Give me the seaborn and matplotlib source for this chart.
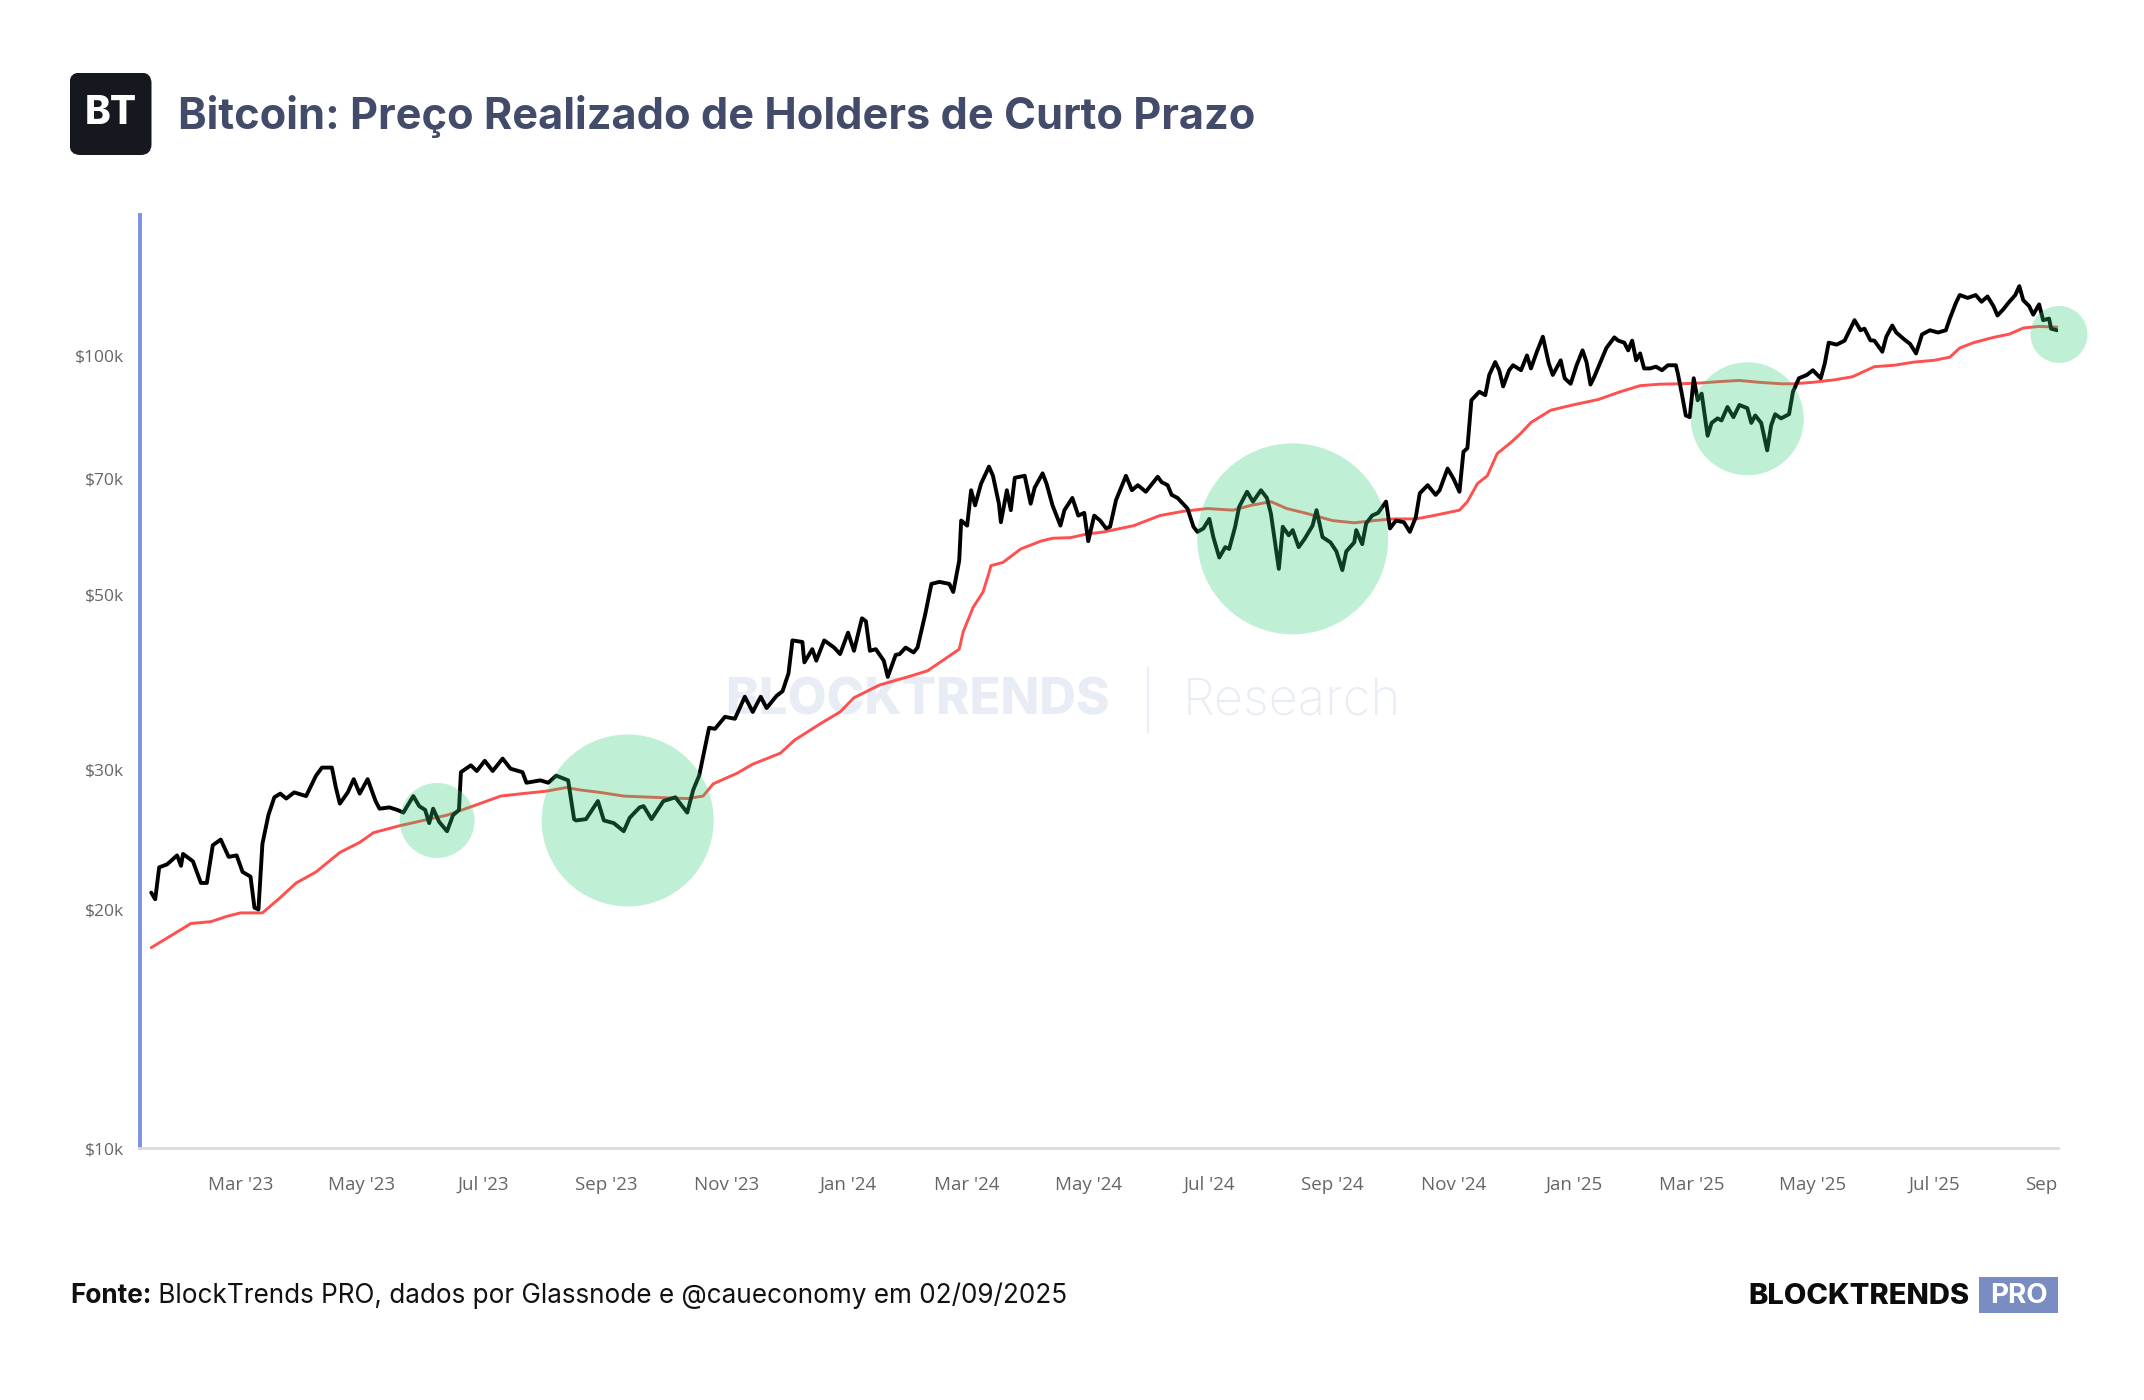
import matplotlib
matplotlib.use("Agg")
import matplotlib.pyplot as plt
import matplotlib.patches as mpatches
import matplotlib.ticker as mticker
import pandas as pd
import seaborn as sns

# ---- data ------------------------------------------------------------------
PRICE_DATES = [
    "2023-01-15", "2023-01-17", "2023-01-19", "2023-01-23", "2023-01-28", "2023-01-30", "2023-01-31",
    "2023-02-05", "2023-02-09", "2023-02-12", "2023-02-15", "2023-02-19", "2023-02-23", "2023-02-27",
    "2023-03-02", "2023-03-06", "2023-03-08", "2023-03-10", "2023-03-12", "2023-03-15", "2023-03-18",
    "2023-03-21", "2023-03-24", "2023-03-28", "2023-04-03", "2023-04-08", "2023-04-11", "2023-04-16",
    "2023-04-18", "2023-04-20", "2023-04-24", "2023-04-27", "2023-04-30", "2023-05-04", "2023-05-08",
    "2023-05-10", "2023-05-15", "2023-05-19", "2023-05-22", "2023-05-27", "2023-05-30", "2023-06-02",
    "2023-06-04", "2023-06-06", "2023-06-09", "2023-06-13", "2023-06-16", "2023-06-19", "2023-06-20",
    "2023-06-25", "2023-06-28", "2023-07-02", "2023-07-06", "2023-07-11", "2023-07-15", "2023-07-21",
    "2023-07-23", "2023-07-30", "2023-08-03", "2023-08-07", "2023-08-13", "2023-08-16", "2023-08-17",
    "2023-08-22", "2023-08-28", "2023-08-31", "2023-09-05", "2023-09-10", "2023-09-13", "2023-09-18",
    "2023-09-20", "2023-09-24", "2023-09-30", "2023-10-06", "2023-10-12", "2023-10-15", "2023-10-18",
    "2023-10-23", "2023-10-26", "2023-10-31", "2023-11-05", "2023-11-10", "2023-11-14", "2023-11-18",
    "2023-11-21", "2023-11-26", "2023-11-29", "2023-12-02", "2023-12-04", "2023-12-09", "2023-12-10",
    "2023-12-14", "2023-12-16", "2023-12-20", "2023-12-25", "2023-12-28", "2024-01-01", "2024-01-04",
    "2024-01-08", "2024-01-10", "2024-01-12", "2024-01-15", "2024-01-19", "2024-01-21", "2024-01-25",
    "2024-01-27", "2024-01-30", "2024-02-03", "2024-02-05", "2024-02-09", "2024-02-12", "2024-02-16",
    "2024-02-21", "2024-02-23", "2024-02-26", "2024-02-27", "2024-03-01", "2024-03-03", "2024-03-05",
    "2024-03-08", "2024-03-12", "2024-03-14", "2024-03-17", "2024-03-18", "2024-03-21", "2024-03-23",
    "2024-03-25", "2024-03-30", "2024-04-02", "2024-04-04", "2024-04-08", "2024-04-10", "2024-04-13",
    "2024-04-17", "2024-04-19", "2024-04-23", "2024-04-26", "2024-04-29", "2024-05-01", "2024-05-04",
    "2024-05-07", "2024-05-10", "2024-05-12", "2024-05-15", "2024-05-20", "2024-05-23", "2024-05-26",
    "2024-05-30", "2024-06-05", "2024-06-07", "2024-06-10", "2024-06-12", "2024-06-15", "2024-06-20",
    "2024-06-23", "2024-06-25", "2024-06-28", "2024-07-01", "2024-07-03", "2024-07-06", "2024-07-09",
    "2024-07-11", "2024-07-14", "2024-07-16", "2024-07-20", "2024-07-23", "2024-07-27", "2024-07-30",
    "2024-08-01", "2024-08-05", "2024-08-07", "2024-08-10", "2024-08-12", "2024-08-15", "2024-08-18",
    "2024-08-22", "2024-08-24", "2024-08-27", "2024-08-31", "2024-09-03", "2024-09-06", "2024-09-08",
    "2024-09-12", "2024-09-13", "2024-09-16", "2024-09-18", "2024-09-21", "2024-09-24", "2024-09-28",
    "2024-09-30", "2024-10-03", "2024-10-07", "2024-10-10", "2024-10-13", "2024-10-15", "2024-10-19",
    "2024-10-23", "2024-10-25", "2024-10-29", "2024-11-01", "2024-11-04", "2024-11-06", "2024-11-08",
    "2024-11-10", "2024-11-14", "2024-11-17", "2024-11-19", "2024-11-22", "2024-11-24", "2024-11-26",
    "2024-11-29", "2024-12-01", "2024-12-05", "2024-12-08", "2024-12-10", "2024-12-13", "2024-12-16",
    "2024-12-19", "2024-12-21", "2024-12-25", "2024-12-27", "2024-12-30", "2025-01-02", "2025-01-05",
    "2025-01-07", "2025-01-09", "2025-01-11", "2025-01-15", "2025-01-17", "2025-01-21", "2025-01-23",
    "2025-01-26", "2025-01-28", "2025-01-30", "2025-02-01", "2025-02-03", "2025-02-05", "2025-02-08",
    "2025-02-11", "2025-02-14", "2025-02-17", "2025-02-21", "2025-02-22", "2025-02-24", "2025-02-26",
    "2025-02-28", "2025-03-02", "2025-03-04", "2025-03-06", "2025-03-09", "2025-03-11", "2025-03-14",
    "2025-03-16", "2025-03-19", "2025-03-22", "2025-03-25", "2025-03-29", "2025-03-31", "2025-04-02",
    "2025-04-05", "2025-04-08", "2025-04-10", "2025-04-12", "2025-04-15", "2025-04-19", "2025-04-21",
    "2025-04-24", "2025-04-28", "2025-05-01", "2025-05-05", "2025-05-07", "2025-05-09", "2025-05-13",
    "2025-05-17", "2025-05-22", "2025-05-25", "2025-05-27", "2025-05-30", "2025-06-01", "2025-06-05",
    "2025-06-07", "2025-06-10", "2025-06-12", "2025-06-16", "2025-06-19", "2025-06-22", "2025-06-25",
    "2025-06-29", "2025-07-03", "2025-07-07", "2025-07-09", "2025-07-12", "2025-07-14", "2025-07-18",
    "2025-07-22", "2025-07-25", "2025-07-28", "2025-07-31", "2025-08-02", "2025-08-05", "2025-08-08",
    "2025-08-11", "2025-08-13", "2025-08-15", "2025-08-18", "2025-08-20", "2025-08-23", "2025-08-25",
    "2025-08-28", "2025-08-29", "2025-09-01",
]
PRICE_USD = [
    21000, 20600, 22600, 22800, 23400, 22700, 23500,
    23000, 21600, 21600, 24100, 24500, 23300, 23400,
    22300, 22000, 20100, 20000, 24200, 26300, 27700,
    28000, 27600, 28100, 27800, 29500, 30200, 30200,
    28500, 27200, 28100, 29200, 28000, 29200, 27400,
    26800, 26900, 26700, 26500, 27800, 27000, 26700,
    25700, 26800, 25800, 25100, 26300, 26700, 29800,
    30400, 29900, 30800, 29900, 31000, 30100, 29800,
    28900, 29100, 28900, 29500, 29100, 26000, 25900,
    26000, 27400, 25900, 25700, 25100, 26100, 26900,
    27000, 26000, 27400, 27700, 26500, 28300, 29500,
    33900, 33800, 35000, 34800, 37100, 35500, 37100,
    35900, 37200, 37700, 39700, 43700, 43500, 41000,
    42600, 41200, 43700, 42800, 42000, 44700, 42400,
    46600, 46200, 42400, 42600, 41200, 39300, 41900,
    42000, 42800, 42200, 42800, 47300, 51500, 51800,
    51500, 50300, 55100, 61900, 61000, 67600, 64700,
    68900, 72400, 70500, 65000, 61600, 67600, 63800,
    70100, 70500, 65000, 68100, 71000, 68900, 64700,
    61000, 63800, 66100, 62800, 63300, 58300, 62800,
    61900, 60500, 60800, 65700, 70500, 67600, 68600,
    67300, 70300, 69200, 68600, 66700, 66100, 64100,
    60800, 59900, 60500, 62200, 59000, 55600, 57300,
    57000, 60800, 64400, 67300, 65400, 67600, 66100,
    63200, 53800, 60800, 59300, 60200, 57300, 58700,
    61000, 63800, 59000, 58100, 56600, 53600, 56600,
    58100, 60200, 57800, 61400, 62800, 63300, 65400,
    60500, 61900, 61600, 59900, 62500, 67000, 68600,
    66700, 67600, 72000, 69900, 67300, 75600, 76400,
    87800, 90000, 89100, 94500, 98100, 95800, 91400,
    95800, 97200, 95800, 100000, 96300, 101100, 105600,
    97700, 94500, 98600, 93600, 92100, 97200, 101500,
    98100, 91900, 94100, 99400, 102200, 105400, 104400,
    103800, 101500, 104400, 98600, 100600, 96300, 96300,
    96800, 95800, 97200, 97200, 94900, 89500, 84000,
    83600, 93600, 87800, 89500, 79200, 82200, 83300,
    82800, 86100, 83600, 86600, 85800, 82200, 84000,
    82200, 75900, 81600, 84300, 83300, 84300, 90000,
    93600, 94500, 95800, 93600, 97700, 103800, 103200,
    104400, 110800, 107600, 108100, 104500, 104400, 101100,
    105600, 109100, 106900, 104800, 103400, 100600, 106300,
    107600, 106900, 107600, 111300, 116400, 119200, 118200,
    119200, 116900, 118700, 115400, 112300, 114400, 116900,
    119200, 122300, 117400, 115400, 112600, 116000, 110800,
    111300, 108100, 107600,
]

STH_DATES = [
    "2023-01-15", "2023-01-26", "2023-02-04", "2023-02-14", "2023-02-22", "2023-03-01", "2023-03-09",
    "2023-03-12", "2023-03-21", "2023-03-29", "2023-04-08", "2023-04-20", "2023-04-30", "2023-05-07",
    "2023-05-20", "2023-06-01", "2023-06-13", "2023-06-26", "2023-07-10", "2023-07-21", "2023-08-02",
    "2023-08-12", "2023-08-19", "2023-08-29", "2023-09-10", "2023-09-25", "2023-10-12", "2023-10-20",
    "2023-10-25", "2023-11-06", "2023-11-14", "2023-11-28", "2023-12-05", "2023-12-18", "2023-12-28",
    "2024-01-04", "2024-01-17", "2024-01-31", "2024-02-10", "2024-02-20", "2024-02-26", "2024-02-28",
    "2024-03-04", "2024-03-09", "2024-03-12", "2024-03-13", "2024-03-19", "2024-03-28", "2024-04-07",
    "2024-04-13", "2024-04-22", "2024-04-30", "2024-05-09", "2024-05-24", "2024-06-06", "2024-06-18",
    "2024-06-30", "2024-07-13", "2024-07-22", "2024-08-01", "2024-08-09", "2024-08-19", "2024-09-01",
    "2024-09-12", "2024-09-22", "2024-10-02", "2024-10-13", "2024-10-22", "2024-11-04", "2024-11-08",
    "2024-11-13", "2024-11-18", "2024-11-23", "2024-11-30", "2024-12-05", "2024-12-10", "2024-12-20",
    "2024-12-31", "2025-01-13", "2025-01-24", "2025-02-03", "2025-02-13", "2025-02-23", "2025-03-05",
    "2025-03-15", "2025-03-25", "2025-04-04", "2025-04-15", "2025-04-21", "2025-05-01", "2025-05-11",
    "2025-05-21", "2025-06-01", "2025-06-11", "2025-06-21", "2025-07-01", "2025-07-09", "2025-07-14",
    "2025-07-21", "2025-07-31", "2025-08-08", "2025-08-15", "2025-08-23", "2025-09-01",
]
STH_USD = [
    17900, 18600, 19200, 19300, 19600, 19800, 19800,
    19800, 20700, 21600, 22300, 23600, 24300, 25000,
    25500, 25900, 26300, 27000, 27800, 28000, 28200,
    28500, 28300, 28100, 27800, 27700, 27600, 27800,
    28800, 29700, 30500, 31500, 32700, 34300, 35500,
    37000, 38400, 39300, 40000, 41600, 42600, 44800,
    48100, 50300, 53200, 54300, 54800, 57000, 58300,
    58800, 58900, 59500, 59900, 61000, 62800, 63600,
    64100, 63800, 64700, 65400, 64100, 63200, 61900,
    61500, 61900, 62200, 62200, 62800, 63800, 65400,
    68900, 70500, 75200, 77700, 79800, 82300, 85300,
    86600, 88000, 90000, 91600, 92000, 92100, 92300,
    92700, 93000, 92500, 92100, 92100, 92500, 93100,
    94000, 96800, 97200, 98100, 98600, 99500, 102200,
    103800, 105400, 106400, 108300, 108800, 108600,
]

# zones highlighted with green circles
HIGHLIGHT_DATES = ["2023-06-08", "2023-09-12", "2024-08-12", "2025-03-29", "2025-09-02"]
HIGHLIGHT_USD = [25900, 25900, 58700, 83200, 106300]
HIGHLIGHT_RADIUS_PX = [37.5, 86, 95.5, 56.5, 28.5]

Y_TICKS = [10000, 20000, 30000, 50000, 70000, 100000]
Y_LABELS = ["$10k", "$20k", "$30k", "$50k", "$70k", "$100k"]
X_TICKS = [
    "2023-03-01", "2023-05-01", "2023-07-01", "2023-09-01", "2023-11-01", "2024-01-01",
    "2024-03-01", "2024-05-01", "2024-07-01", "2024-09-01", "2024-11-01", "2025-01-01",
    "2025-03-01", "2025-05-01", "2025-07-01", "2025-09-01",
]
X_LABELS = [
    "Mar '23", "May '23", "Jul '23", "Sep '23", "Nov '23", "Jan '24",
    "Mar '24", "May '24", "Jul '24", "Sep '24", "Nov '24", "Jan '25",
    "Mar '25", "May '25", "Jul '25", "Sep",
]

TITLE = "Bitcoin: Preço Realizado de Holders de Curto Prazo"
SOURCE_BOLD = "Fonte:"
SOURCE_TEXT = " BlockTrends PRO, dados por Glassnode e @caueconomy em 02/09/2025"

W, H, DPI = 2144, 1400, 100


def fx(px):
    return px / W


def fy(py):
    return 1 - py / H


def main():
    sns.set_theme(style="white")
    plt.rcParams["font.family"] = ["Inter", "DejaVu Sans"]

    fig = plt.figure(figsize=(W / DPI, H / DPI), dpi=DPI)
    fig.patch.set_facecolor("white")

    ax = fig.add_axes([fx(139.5), fy(1148), fx(2058) - fx(139.5), fy(215) - fy(1148)])

    price = pd.DataFrame({"date": pd.to_datetime(PRICE_DATES), "usd": PRICE_USD})
    sth = pd.DataFrame({"date": pd.to_datetime(STH_DATES), "usd": STH_USD})
    zones = pd.DataFrame({"date": pd.to_datetime(HIGHLIGHT_DATES), "usd": HIGHLIGHT_USD})

    sns.lineplot(data=sth, x="date", y="usd", ax=ax, color="#ff4f4f", linewidth=2.1, zorder=3)
    sns.lineplot(data=price, x="date", y="usd", ax=ax, color="#000000", linewidth=2.8, zorder=4)

    sizes = [(2 * r * 72 / DPI) ** 2 for r in HIGHLIGHT_RADIUS_PX]
    ax.scatter(zones["date"], zones["usd"], s=sizes, color="#2ecc71", alpha=0.3,
               linewidths=0, zorder=5, clip_on=False)

    ax.set_yscale("log")
    ax.set_ylim(10000, 150400)
    ax.set_xlim(pd.Timestamp("2023-01-09 02:00"), pd.Timestamp("2025-09-01 12:00"))
    ax.yaxis.set_major_locator(mticker.FixedLocator(Y_TICKS))
    ax.yaxis.set_minor_locator(mticker.NullLocator())
    ax.set_yticklabels(Y_LABELS)
    ax.set_xticks(pd.to_datetime(X_TICKS))
    ax.set_xticklabels(X_LABELS)
    ax.set_xlabel("")
    ax.set_ylabel("")
    ax.grid(False)

    ax.tick_params(axis="y", length=0, pad=11, labelsize=12.5, labelcolor="#666666")
    ax.tick_params(axis="x", length=11, width=1.0, color="#e3e3e3", direction="out",
                   pad=9, labelsize=13.5, labelcolor="#666666")
    for lab in ax.get_xticklabels() + ax.get_yticklabels():
        lab.set_family(["Open Sans", "DejaVu Sans"])
    ax.get_xticklabels()[-1].set_horizontalalignment("right")

    for side in ("top", "right"):
        ax.spines[side].set_visible(False)
    ax.spines["left"].set_color("#7d92e3")
    ax.spines["left"].set_linewidth(2.8)
    ax.spines["bottom"].set_color("#dcdcdc")
    ax.spines["bottom"].set_linewidth(2.0)

    # watermark behind the lines
    wm = "#e8edf5"
    fig.text(fx(917), fy(701), "BLOCKTRENDS", ha="center", va="center", fontsize=36.5,
             fontweight="heavy", color=wm, zorder=0)
    fig.text(fx(1183), fy(701), "Research", ha="left", va="center", fontsize=36.5,
             fontweight="light", color=wm, zorder=0)
    fig.add_artist(plt.Line2D([fx(1148), fx(1148)], [fy(668), fy(732)], color=wm,
                              linewidth=1.5, zorder=0))
    ax.set_facecolor("none")
    ax.set_zorder(1)

    # header
    logo = fig.add_axes([fx(69.5), fy(155), fx(151.5) - fx(69.5), fy(72.5) - fy(155)])
    logo.set_xlim(0, 1)
    logo.set_ylim(0, 1)
    logo.axis("off")
    logo.add_patch(mpatches.FancyBboxPatch((0, 0), 1, 1, boxstyle="round,pad=0,rounding_size=0.13",
                                           facecolor="#16181f", edgecolor="none"))
    logo.text(0.5, 0.5, "BT", ha="center", va="center", fontsize=28, fontweight="heavy", color="white")

    fig.text(fx(178), fy(116), TITLE, ha="left", va="center", fontsize=31.2,
             fontweight="bold", color="#434b6a")

    # footer
    t_bold = fig.text(fx(70), fy(1296), SOURCE_BOLD, ha="left", va="center", fontsize=18.8,
                      fontweight="bold", color="#111111")
    renderer = fig.canvas.get_renderer()
    bb = t_bold.get_window_extent(renderer=renderer)
    fig.text(bb.x1 / W, fy(1296), SOURCE_TEXT, ha="left", va="center", fontsize=18.8,
             color="#111111")

    fig.text(fx(1970), fy(1296), "BLOCKTRENDS", ha="right", va="center", fontsize=21,
             fontweight="heavy", color="#0c0c0c")
    pro = fig.add_axes([fx(1979), fy(1313), fx(2058) - fx(1979), fy(1277) - fy(1313)])
    pro.set_xticks([])
    pro.set_yticks([])
    for s in pro.spines.values():
        s.set_visible(False)
    pro.set_facecolor("#7a8dc2")
    pro.text(0.5, 0.47, "PRO", ha="center", va="center", fontsize=20, fontweight="bold",
             color="white", transform=pro.transAxes)

    fig.savefig("out.png", dpi=DPI, facecolor="white")
    plt.close(fig)


if __name__ == "__main__":
    main()
